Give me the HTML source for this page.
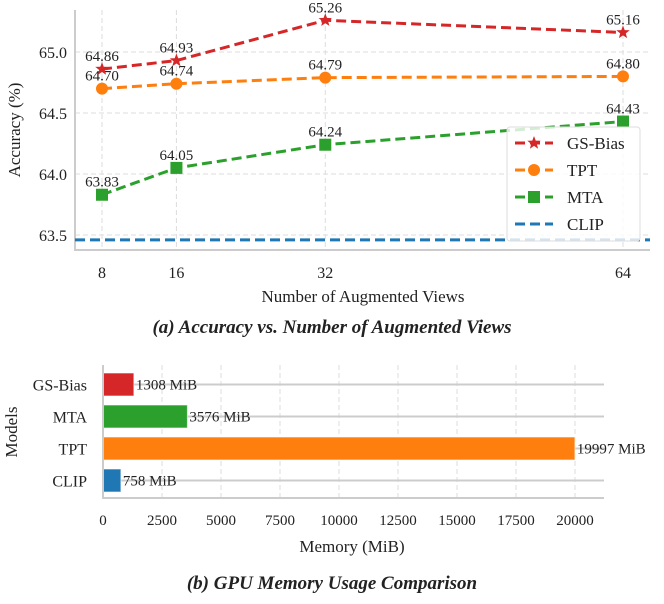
<!DOCTYPE html>
<html><head><meta charset="utf-8"><style>
body{margin:0;background:#fff}
svg text{font-family:"Liberation Serif",serif;fill:#222}
</style></head><body>
<svg id="c" width="664" height="599" viewBox="0 0 664 599" xmlns="http://www.w3.org/2000/svg"></svg>
<script>
const views=[8,16,32,64];
const gsBias=[64.86,64.93,65.26,65.16];
const tpt=[64.70,64.74,64.79,64.80];
const mta=[63.83,64.05,64.24,64.43];
const clipAcc=63.46;
const yTicks=[63.5,64.0,64.5,65.0];
const models=["GS-Bias","MTA","TPT","CLIP"];
const memory=[1308,3576,19997,758];
const memTicks=[0,2500,5000,7500,10000,12500,15000,17500,20000];

const S=document.getElementById('c');const NS="http://www.w3.org/2000/svg";
function el(t,a,p){const e=document.createElementNS(NS,t);for(const k in a)e.setAttribute(k,a[k]);(p||S).appendChild(e);return e;}
function tx(s,a,p){const e=el('text',a,p);e.textContent=s;return e;}
// chart A scales
const X=v=>102+(v-8)*(623-102)/56;
const Y=v=>174-(v-64)*122;
const L=75,R=650,T=10,B=250;
const ga=el('g',{});
yTicks.forEach(v=>{el('line',{x1:L,x2:R,y1:Y(v),y2:Y(v),stroke:'#ddd','stroke-dasharray':'5,3','stroke-width':1},ga);
 const t=tx(v.toFixed(1),{x:L-8,y:Y(v)+6,'text-anchor':'end','font-size':16},ga);});
views.forEach(v=>{el('line',{x1:X(v),x2:X(v),y1:T,y2:B,stroke:'#ddd','stroke-dasharray':'5,3'},ga);
 const t=tx(String(v),{x:X(v),y:B+28,'text-anchor':'middle','font-size':16},ga);});
el('polyline',{points:`${L},${T} ${L},${B} ${R},${B}`,fill:'none',stroke:'#ccc','stroke-width':2},ga);
// CLIP
const cl=el('line',{x1:L,x2:R,y1:Y(clipAcc),y2:Y(clipAcc),stroke:'#1f77b4','stroke-width':3,'stroke-dasharray':'10,5'},ga);

function star(cx,cy,r,c,p){let pts=[];for(let i=0;i<10;i++){const a=-Math.PI/2+i*Math.PI/5,rr=i%2?r*0.42:r;pts.push((cx+rr*Math.cos(a)).toFixed(1)+','+(cy+rr*Math.sin(a)).toFixed(1));}return el('polygon',{points:pts.join(' '),fill:c},p);}
function series(vals,color,mk,name){
 const g=el('g',{},ga);
 el('polyline',{points:vals.map((v,i)=>X(views[i])+','+Y(v)).join(' '),fill:'none',stroke:color,'stroke-width':3,'stroke-dasharray':'10,5'},g);
 vals.forEach((v,i)=>{const x=X(views[i]),y=Y(v);let m;
  if(mk==='star')m=star(x,y,7,color,g);else if(mk==='circle')m=el('circle',{cx:x,cy:y,r:6,fill:color},g);else m=el('rect',{x:x-6,y:y-6,width:12,height:12,fill:color},g);
  
  const t=tx(v.toFixed(2),{x:x,y:y-8,'text-anchor':'middle','font-size':15},g);});
}
series(tpt,'#ff7f0e','circle','tpt');
series(mta,'#2ca02c','square','mta');
series(gsBias,'#d62728','star','gs-bias');
// legend
const lg=el('g',{},ga);
el('rect',{x:507,y:127,width:133,height:114,rx:3,fill:'rgba(255,255,255,0.8)',stroke:'#ddd'},lg);
[['GS-Bias','#d62728','star'],['TPT','#ff7f0e','circle'],['MTA','#2ca02c','square'],['CLIP','#1f77b4','none']].forEach((d,i)=>{
 const y=143+i*27;const g=el('g',{},lg);
 el('line',{x1:515,x2:553,y1:y,y2:y,stroke:d[1],'stroke-width':3,'stroke-dasharray':'10,5'},g);
 if(d[2]==='star')star(534,y,7,d[1],g);else if(d[2]==='circle')el('circle',{cx:534,cy:y,r:6,fill:d[1]},g);else if(d[2]==='square')el('rect',{x:528,y:y-6,width:12,height:12,fill:d[1]},g);
 tx(d[0],{x:567,y:y+6,'font-size':17},g);});
let t=tx('Accuracy (%)',{x:0,y:0,'text-anchor':'middle','font-size':17,transform:'translate(20,130) rotate(-90)'});
t=tx('Number of Augmented Views',{x:363,y:302,'text-anchor':'middle','font-size':17});
t=tx('(a) Accuracy vs. Number of Augmented Views',{x:332,y:333,'text-anchor':'middle','font-size':19,'font-weight':'bold','font-style':'italic'});
// chart B
const MX=v=>103+v*(575-103)/20000;
const bL=103,bR=604,bT=365,bB=498;
const gb=el('g',{});
const cy=i=>384.5+i*32;
memTicks.forEach(v=>{el('line',{x1:MX(v),x2:MX(v),y1:bT,y2:bB,stroke:'#ddd','stroke-dasharray':'5,3'},gb);
 const t=tx(String(v),{x:MX(v),y:bB+27,'text-anchor':'middle','font-size':15},gb);});
const colors=['#d62728','#2ca02c','#ff7f0e','#1f77b4'];
models.forEach((m,i)=>{el('line',{x1:bL,x2:bR,y1:cy(i),y2:cy(i),stroke:'#ccc','stroke-width':2},gb);
 const t=tx(m,{x:bL-16,y:cy(i)+6,'text-anchor':'end','font-size':16},gb);});
models.forEach((m,i)=>{const r=el('rect',{x:bL,y:cy(i)-11.5,width:MX(memory[i])-bL,height:23,fill:colors[i],stroke:'rgba(255,255,255,0.6)'},gb);
 
 const t=tx(memory[i]+' MiB',{x:MX(memory[i])+2,y:cy(i)+5,'font-size':15},gb);});
el('polyline',{points:`${bL},${bT} ${bL},${bB} ${bR},${bB}`,fill:'none',stroke:'#ccc','stroke-width':2},gb);
t=tx('Models',{x:0,y:0,'text-anchor':'middle','font-size':17,transform:'translate(17,432) rotate(-90)'});
t=tx('Memory (MiB)',{x:352,y:552,'text-anchor':'middle','font-size':17});
t=tx('(b) GPU Memory Usage Comparison',{x:332,y:589,'text-anchor':'middle','font-size':19,'font-weight':'bold','font-style':'italic'});
</script>
</body></html>
